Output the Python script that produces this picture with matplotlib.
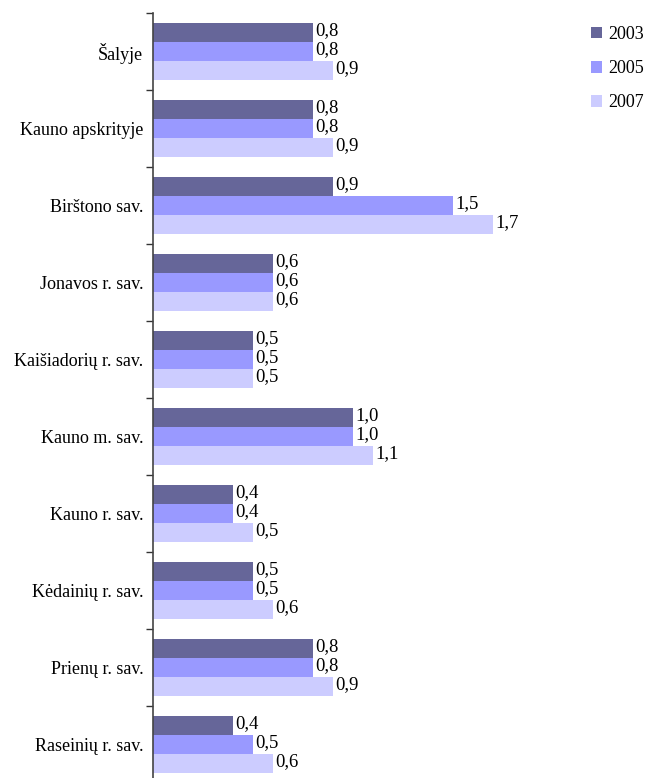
import matplotlib.pyplot as plt
import numpy as np

categories = ["Šalyje", "Kauno apskrityje", "Birštono sav.", "Jonavos r. sav.",
              "Kaišiadorių r. sav.", "Kauno m. sav.", "Kauno r. sav.",
              "Kėdainių r. sav.", "Prienų r. sav.", "Raseinių r. sav."]
years = ["2003", "2005", "2007"]
v2003 = [0.8, 0.8, 0.9, 0.6, 0.5, 1.0, 0.4, 0.5, 0.8, 0.4]
v2005 = [0.8, 0.8, 1.5, 0.6, 0.5, 1.0, 0.4, 0.5, 0.8, 0.5]
v2007 = [0.9, 0.9, 1.7, 0.6, 0.5, 1.1, 0.5, 0.6, 0.9, 0.6]
colors = ["#666699", "#9999ff", "#ccccff"]

plt.rcParams['font.family'] = ['Liberation Serif', 'DejaVu Serif']

fig = plt.figure(figsize=(6.46, 7.78), dpi=100)
ax = fig.add_axes([153 / 646, -5 / 778, 1 - 153 / 646, 770 / 778])

y = np.arange(len(categories))
h = 0.247
for k, (vals, col, yr) in enumerate(zip([v2003, v2005, v2007], colors, years)):
    pos = y + (k - 1) * h
    ax.barh(pos, vals, height=h, color=col, label=yr)
    for p, v in zip(pos, vals):
        ax.text(v + 0.01, p - 0.02, f"{v:.1f}".replace(".", ","), va="center",
                ha="left", fontsize=13.5)

ax.set_xlim(0, 493 / 200)
ax.set_ylim(len(categories) - 0.5, -0.5)
ax.set_xticks([])
ax.set_yticks(np.arange(-0.5, len(categories) + 0.5, 1))
ax.set_yticklabels([])
ax.tick_params(axis="y", which="major", length=5, width=1, color="#333333")
ax.set_yticks(y, minor=True)
ax.set_yticklabels(categories, minor=True, fontsize=13)
ax.tick_params(axis="y", which="minor", length=0, pad=7)
for s in ["top", "right", "bottom"]:
    ax.spines[s].set_visible(False)
ax.spines["left"].set_color("#444444")
ax.spines["left"].set_linewidth(1.2)

ax.legend(loc="upper left", bbox_to_anchor=(582 / 646, 1 - 17 / 778),
          bbox_transform=fig.transFigure, frameon=False, fontsize=13,
          handlelength=0.6, handleheight=0.6, handletextpad=0.35,
          labelspacing=0.95, borderpad=0)

fig.savefig("out.png", dpi=100)
